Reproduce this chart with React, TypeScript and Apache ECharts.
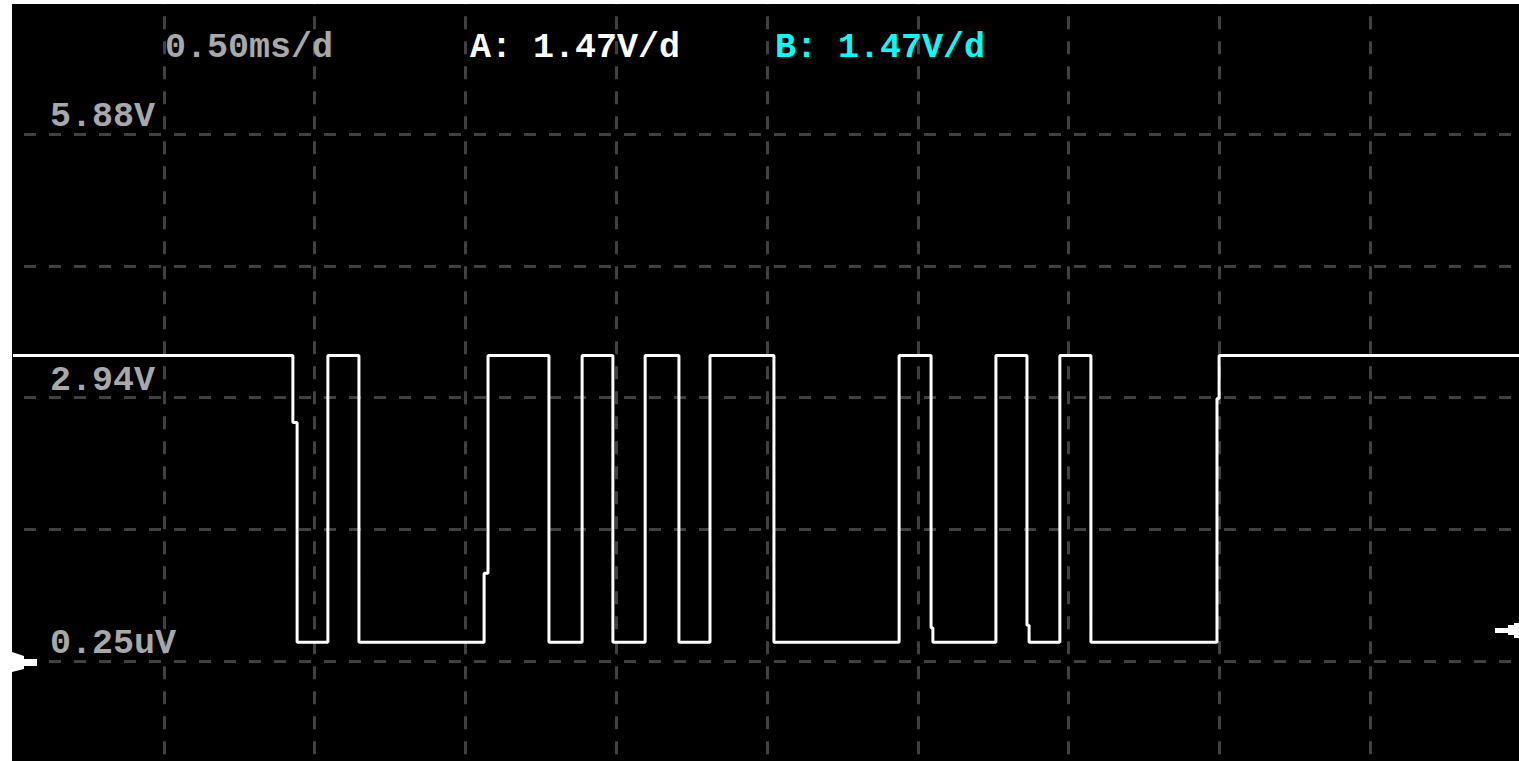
import React, { useEffect, useRef } from "react";
import * as echarts from "echarts";

// Time base 0.50 ms/div, 10 divisions; channel A 1.47 V/div
const xTicksMs = [0, 0.5, 1, 1.5, 2, 2.5, 3, 3.5, 4, 4.5, 5];
const yTickValues = [0, 2.94, 5.88];
const yTickLabels = ["0.25uV", "2.94V", "5.88V"];
const headerTexts = ["0.50ms/d", "A: 1.47V/d", "B: 1.47V/d"];

// Channel A waveform (time in ms, voltage in V)
const waveTime = [
  0, 0.928, 0.928, 0.942, 0.942, 1.044, 1.044, 1.147, 1.147, 1.562, 1.562, 1.575, 1.575,
  1.777, 1.777, 1.887, 1.887, 1.989, 1.989, 2.096, 2.096, 2.208, 2.208, 2.311, 2.311,
  2.523, 2.523, 2.938, 2.938, 3.044, 3.044, 3.05, 3.05, 3.259, 3.259, 3.362, 3.362,
  3.369, 3.369, 3.471, 3.471, 3.574, 3.574, 3.992, 3.992, 3.999, 3.999, 5.0,
];
const waveVolt = [
  3.41, 3.41, 2.66, 2.66, 0.21, 0.21, 3.41, 3.41, 0.21, 0.21, 0.98, 0.98, 3.41,
  3.41, 0.21, 0.21, 3.41, 3.41, 0.21, 0.21, 3.41, 3.41, 0.21, 0.21, 3.41,
  3.41, 0.21, 0.21, 3.41, 3.41, 0.37, 0.37, 0.21, 0.21, 3.41, 3.41, 0.4,
  0.4, 0.21, 0.21, 3.41, 3.41, 0.21, 0.21, 2.93, 2.93, 3.41, 3.41,
];

const FONT = '"Liberation Mono", "DejaVu Sans Mono", monospace';

export default function App() {
  const ref = useRef<HTMLDivElement>(null);

  useEffect(() => {
    if (!ref.current) return;
    const chart = echarts.init(ref.current, null, { renderer: "svg" });
    const data = waveTime.map((t, i) => [t, waveVolt[i]]);
    const grid = "#404040";

    chart.setOption({
      animation: false,
      backgroundColor: "#000000",
      grid: {
        left: 13,
        top: 2.25,
        width: 1508,
        height: 790.5,
        containLabel: false,
        outerBoundsMode: "none",
      },
      xAxis: {
        type: "value",
        min: xTicksMs[0],
        max: xTicksMs[xTicksMs.length - 1],
        interval: 0.5,
        axisLine: { show: false },
        axisTick: { show: false },
        axisLabel: { show: false },
        splitLine: {
          show: true,
          showMinLine: false,
          lineStyle: { color: grid, width: 3, type: [13, 12], dashOffset: 11 },
        },
      },
      yAxis: {
        type: "value",
        min: -1.47,
        max: 7.35,
        interval: 1.47,
        axisLine: { show: false },
        axisTick: { show: false },
        axisLabel: {
          show: true,
          inside: true,
          margin: 37,
          align: "left",
          verticalAlign: "bottom",
          lineHeight: 34,
          color: "#a8a8a8",
          fontFamily: FONT,
          fontWeight: "bold",
          fontSize: 35,
          formatter: (v: number) => {
            const i = yTickValues.findIndex((t) => Math.abs(t - v) < 1e-6);
            return i >= 0 ? yTickLabels[i] : "";
          },
        },
        splitLine: {
          show: true,
          lineStyle: { color: grid, width: 3, type: [12, 13], dashOffset: 14 },
        },
      },
      series: [
        {
          type: "line",
          data,
          showSymbol: false,
          symbol: "none",
          lineStyle: { color: "#ffffff", width: 3 },
          z: 5,
        },
      ],
      graphic: [
        { type: "rect", shape: { x: 0, y: 0, width: 12, height: 800 }, style: { fill: "#ffffff" }, z: 100 },
        { type: "rect", shape: { x: 0, y: 0, width: 1521, height: 4 }, style: { fill: "#ffffff" }, z: 100 },
        {
          type: "text",
          x: 165,
          y: 48,
          z: 100,
          style: { text: headerTexts[0], fill: "#a8a8a8", font: `bold 35px ${FONT}`, textVerticalAlign: "middle" },
        },
        {
          type: "text",
          x: 470,
          y: 48,
          z: 100,
          style: { text: headerTexts[1], fill: "#ffffff", font: `bold 35px ${FONT}`, textVerticalAlign: "middle" },
        },
        {
          type: "text",
          x: 775,
          y: 48,
          z: 100,
          style: { text: headerTexts[2], fill: "#00ffff", font: `bold 35px ${FONT}`, textVerticalAlign: "middle" },
        },
        {
          type: "polygon",
          z: 100,
          shape: {
            points: [
              [12, 652], [24, 656], [24, 659], [37, 659], [37, 666], [24, 666], [24, 669], [12, 672],
            ],
          },
          style: { fill: "#ffffff" },
        },
        {
          type: "polygon",
          z: 100,
          shape: {
            points: [
              [1495, 628], [1508, 628], [1508, 625], [1514, 625], [1514, 623], [1519, 623],
              [1519, 638], [1514, 638], [1514, 635], [1508, 635], [1508, 633], [1495, 633],
            ],
          },
          style: { fill: "#ffffff" },
        },
      ],
    });

    return () => chart.dispose();
  }, []);

  return (
    <div
      style={{
        position: "absolute",
        left: 0,
        top: 0,
        width: 1519,
        height: 761,
        overflow: "hidden",
        background: "#000",
      }}
    >
      <div ref={ref} style={{ width: 1521, height: 793 }} />
    </div>
  );
}
